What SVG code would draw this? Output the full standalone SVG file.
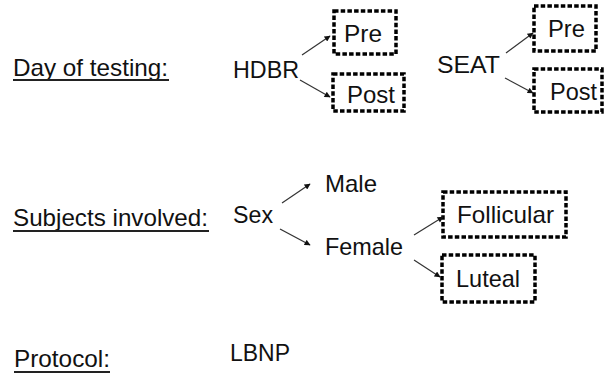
<svg xmlns="http://www.w3.org/2000/svg" width="605" height="374" viewBox="0 0 605 374">
<defs>
<style>
text{font-family:"Liberation Sans",Arial,sans-serif;font-size:24px;fill:#111}
.box{fill:none;stroke:#000;stroke-width:3.5;stroke-dasharray:4.5 2.2}
.ul{stroke:#222;stroke-width:1.8}
.arr{stroke:#333;stroke-width:1.2;fill:none;marker-end:url(#ah)}
</style>
<marker id="ah" viewBox="0 0 10 10" refX="9" refY="5" markerWidth="7" markerHeight="6" markerUnits="userSpaceOnUse" orient="auto">
<path d="M0,0 L10,5 L0,10 z" fill="#111"/>
</marker>
</defs>
<g id="label-day">
<text x="13" y="76" textLength="155" lengthAdjust="spacingAndGlyphs">Day of testing:</text>
<line class="ul" x1="13" y1="80" x2="169" y2="80"/>
</g>
<g id="label-subjects">
<text x="13" y="226" textLength="195" lengthAdjust="spacingAndGlyphs">Subjects involved:</text>
<line class="ul" x1="13" y1="231" x2="209" y2="231"/>
</g>
<g id="label-protocol">
<text x="14" y="367" textLength="96" lengthAdjust="spacingAndGlyphs">Protocol:</text>
<line class="ul" x1="14" y1="372" x2="110" y2="372"/>
</g>
<g id="hdbr"><text x="233" y="78" textLength="66" lengthAdjust="spacingAndGlyphs">HDBR</text></g>
<g id="hdbr-pre"><rect class="box" x="334" y="11" width="62" height="43"/><text x="344" y="42" textLength="38" lengthAdjust="spacingAndGlyphs">Pre</text></g>
<g id="hdbr-post"><rect class="box" x="333" y="74" width="71" height="37"/><text x="347" y="103" textLength="48" lengthAdjust="spacingAndGlyphs">Post</text></g>
<g id="seat"><text x="437" y="73" textLength="63" lengthAdjust="spacingAndGlyphs">SEAT</text></g>
<g id="seat-pre"><rect class="box" x="534" y="6" width="62" height="45"/><text x="548" y="37" textLength="37" lengthAdjust="spacingAndGlyphs">Pre</text></g>
<g id="seat-post"><rect class="box" x="534" y="69" width="68" height="43"/><text x="550" y="100" textLength="47" lengthAdjust="spacingAndGlyphs">Post</text></g>
<g id="sex"><text x="233" y="223" textLength="40" lengthAdjust="spacingAndGlyphs">Sex</text></g>
<g id="male"><text x="325" y="192">Male</text></g>
<g id="female"><text x="325" y="255" textLength="78" lengthAdjust="spacingAndGlyphs">Female</text></g>
<g id="follicular"><rect class="box" x="443" y="192" width="123" height="45"/><text x="457" y="223" textLength="97" lengthAdjust="spacingAndGlyphs">Follicular</text></g>
<g id="luteal"><rect class="box" x="442" y="255" width="93" height="47"/><text x="456" y="287" textLength="64" lengthAdjust="spacingAndGlyphs">Luteal</text></g>
<g id="lbnp"><text x="230" y="361" textLength="60" lengthAdjust="spacingAndGlyphs">LBNP</text></g>
<g id="connectors">
<line class="arr" x1="302" y1="55" x2="330" y2="36"/>
<line class="arr" x1="300" y1="80" x2="330" y2="97"/>
<line class="arr" x1="506" y1="53" x2="533" y2="33"/>
<line class="arr" x1="505" y1="78" x2="533" y2="93"/>
<line class="arr" x1="282" y1="203" x2="310" y2="184"/>
<line class="arr" x1="280" y1="229" x2="310" y2="245"/>
<line class="arr" x1="414" y1="235" x2="443" y2="217"/>
<line class="arr" x1="414" y1="260" x2="440" y2="277"/>
</g>
</svg>
